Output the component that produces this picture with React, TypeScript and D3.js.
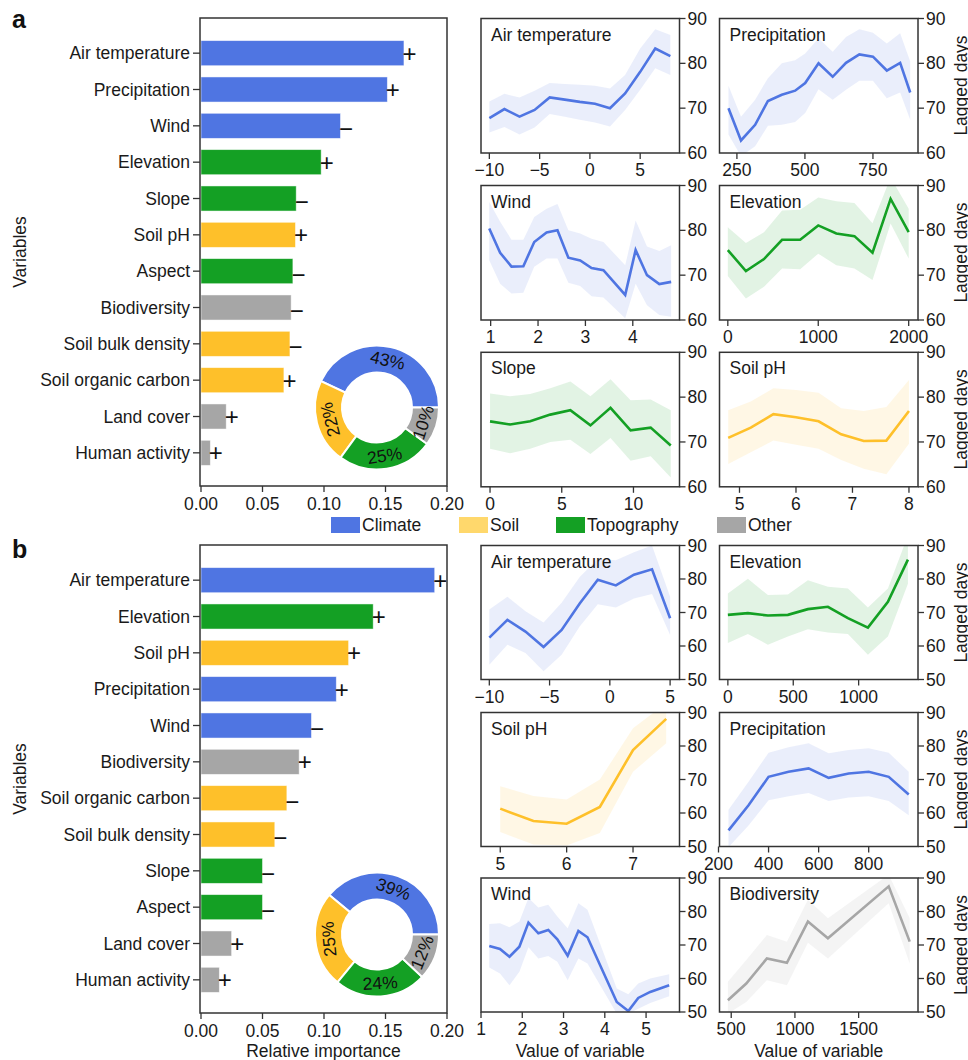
import React from 'react';
import * as d3 from 'd3';

// fonts / colours
const FONT = '"Liberation Sans", Arial, Helvetica, sans-serif';
const FS = 17.5;
const INK = '#1a1a1a';

// groups
const groupNames = ['Climate', 'Soil', 'Topography', 'Other'];
const groupColors = ['#4f75e2', '#fec02a', '#14a024', '#a6a6a6'];
const legendColors = ['#4f75e2', '#ffd86c', '#14a024', '#a6a6a6'];
const varGroup: Record<string, string> = {
  'Air temperature': 'Climate', Precipitation: 'Climate', Wind: 'Climate',
  Elevation: 'Topography', Slope: 'Topography', Aspect: 'Topography',
  'Soil pH': 'Soil', 'Soil bulk density': 'Soil', 'Soil organic carbon': 'Soil',
  Biodiversity: 'Other', 'Land cover': 'Other', 'Human activity': 'Other',
};

// ---- panel a bars
const varsA = ['Air temperature', 'Precipitation', 'Wind', 'Elevation', 'Slope', 'Soil pH', 'Aspect',
  'Biodiversity', 'Soil bulk density', 'Soil organic carbon', 'Land cover', 'Human activity'];
const importanceA = [0.165, 0.1515, 0.1134, 0.0977, 0.0774, 0.0768, 0.0747, 0.0733, 0.0723, 0.0674, 0.0205, 0.0076];
const signsA = ['+', '+', '−', '+', '−', '+', '−', '−', '−', '+', '+', '+'];
const shareA = [43, 22, 25, 10];

// ---- panel b bars
const varsB = ['Air temperature', 'Elevation', 'Soil pH', 'Precipitation', 'Wind', 'Biodiversity',
  'Soil organic carbon', 'Soil bulk density', 'Slope', 'Aspect', 'Land cover', 'Human activity'];
const importanceB = [0.19, 0.14, 0.12, 0.11, 0.0898, 0.0798, 0.0698, 0.06, 0.05, 0.05, 0.0249, 0.0149];
const signsB = ['+', '+', '+', '+', '−', '+', '−', '−', '−', '−', '+', '+'];
const shareB = [39, 25, 24, 12];

const barTicks = [0, 0.05, 0.1, 0.15, 0.2];

// ---- panel a partial dependence
const aAirX = [-10, -8.5, -7, -5.5, -4, -2.5, -1, 0.5, 2, 3.5, 5, 6.5, 8];
const aAirY = [67.8, 69.8, 68.1, 69.6, 72.4, 71.9, 71.4, 71.0, 70.0, 73.3, 78.1, 83.3, 81.6];
const aAirHi = [71.5, 73.2, 72.4, 73.9, 75.6, 75.4, 75.2, 75.0, 74.4, 77.4, 83.3, 87.6, 86.3];
const aAirLo = [64.6, 65.8, 64.1, 65.7, 68.7, 68.1, 67.4, 66.8, 65.9, 69.6, 74.1, 78.9, 77.4];

const aPreX = [219, 265, 317, 364, 415, 464, 501, 550, 602, 651, 700, 750, 801, 850, 887];
const aPreY = [70.0, 62.8, 66.3, 71.6, 73.0, 73.9, 75.6, 80.0, 77.0, 80.1, 82.0, 81.5, 78.4, 80.1, 73.5];
const aPreHi = [75.0, 68.1, 71.9, 76.7, 80.0, 80.7, 82.2, 85.6, 82.6, 85.9, 87.6, 86.8, 84.4, 86.7, 80.4];
const aPreLo = [64.1, 59.3, 61.5, 66.1, 66.3, 66.9, 68.9, 74.2, 71.9, 74.1, 76.1, 76.1, 72.2, 73.5, 67.4];

const aWindX = [0.97, 1.2, 1.44, 1.69, 1.92, 2.18, 2.41, 2.64, 2.89, 3.13, 3.38, 3.84, 4.06, 4.3, 4.56, 4.81];
const aWindY = [80.4, 75.0, 71.9, 72.0, 77.4, 79.5, 80.0, 73.9, 73.3, 71.6, 71.1, 65.6, 75.6, 70.0, 68.0, 68.5];
const aWindHi = [86.3, 81.9, 77.9, 77.9, 83.0, 84.8, 85.9, 80.0, 79.3, 78.1, 77.4, 72.2, 82.2, 76.4, 75.4, 76.7];
const aWindLo = [73.3, 68.1, 65.9, 66.1, 71.9, 73.7, 73.7, 68.3, 67.6, 65.3, 65.0, 60.4, 68.1, 63.3, 61.1, 60.7];

const aElevX = [0, 200, 400, 600, 800, 1000, 1200, 1400, 1600, 1800, 2000];
const aElevY = [75.6, 70.9, 73.6, 77.9, 77.9, 81.1, 79.3, 78.7, 75.0, 87.0, 79.6];
const aElevHi = [80.7, 77.2, 79.6, 84.4, 84.6, 87.3, 86.5, 86.1, 81.6, 91.8, 84.8];
const aElevLo = [69.8, 64.8, 67.4, 71.5, 71.3, 74.8, 72.2, 71.5, 68.9, 81.5, 73.7];

const aSlopeX = [0, 1.4, 2.8, 4.2, 5.6, 7.0, 8.4, 9.8, 11.2, 12.6];
const aSlopeY = [74.6, 73.9, 74.6, 76.1, 77.1, 73.7, 77.6, 72.6, 73.2, 69.2];
const aSlopeHi = [80.8, 80.2, 80.7, 82.0, 83.5, 80.2, 84.0, 79.3, 79.5, 77.1];
const aSlopeLo = [68.5, 67.5, 68.5, 70.0, 70.5, 67.3, 70.9, 65.8, 66.8, 62.1];

const aPhX = [4.8, 5.2, 5.6, 6.0, 6.4, 6.8, 7.2, 7.6, 8.0];
const aPhY = [70.9, 73.2, 76.2, 75.5, 74.6, 71.7, 70.2, 70.3, 76.9];
const aPhHi = [77.1, 79.0, 82.0, 81.6, 81.0, 77.5, 76.9, 77.8, 83.8];
const aPhLo = [65.1, 67.7, 70.3, 69.4, 68.5, 66.0, 64.0, 62.8, 69.6];

// ---- panel b partial dependence
const bAirX = [-10, -8.5, -7, -5.5, -4, -2.5, -1, 0.5, 2, 3.5, 5];
const bAirY = [62.5, 67.8, 64.3, 59.7, 64.8, 72.7, 79.8, 78.1, 81.3, 82.9, 68.3];
const bAirHi = [70.9, 74.7, 70.4, 67.0, 72.9, 80.6, 86.0, 85.6, 88.0, 90.0, 74.7];
const bAirLo = [54.4, 60.4, 57.9, 52.5, 57.4, 65.8, 72.5, 71.5, 74.2, 75.5, 63.3];

const bElevX = [0, 153, 306, 459, 612, 765, 918, 1071, 1224, 1377];
const bElevY = [69.3, 69.8, 69.1, 69.3, 71.0, 71.7, 68.3, 65.5, 73.2, 85.8];
const bElevHi = [75.7, 80.1, 75.2, 75.4, 79.6, 77.7, 77.2, 71.5, 77.2, 93.0];
const bElevLo = [60.9, 63.6, 60.4, 62.8, 65.0, 64.0, 63.6, 57.4, 62.8, 78.6];

const bPhX = [5, 5.5, 6, 6.5, 7, 7.5];
const bPhY = [61.3, 57.6, 56.8, 61.8, 78.8, 88.1];
const bPhHi = [68.0, 65.1, 64.0, 70.0, 85.3, 92.8];
const bPhLo = [54.3, 50.6, 50.3, 54.0, 72.3, 80.8];

const bPreX = [240, 320, 400, 480, 560, 640, 720, 800, 880, 960];
const bPreY = [54.8, 62.3, 70.8, 72.3, 73.3, 70.5, 71.8, 72.3, 70.8, 65.5];
const bPreHi = [61.0, 69.3, 78.0, 79.6, 80.8, 77.8, 78.8, 79.3, 78.0, 72.3];
const bPreLo = [49.8, 56.3, 63.8, 65.0, 66.0, 63.6, 64.6, 65.0, 63.6, 59.3];

const bWindX = [1.2, 1.46, 1.69, 1.93, 2.15, 2.39, 2.63, 2.85, 3.1, 3.36, 3.58, 4.29, 4.57, 4.81, 5.1, 5.56];
const bWindY = [69.7, 68.8, 66.5, 69.5, 76.7, 73.5, 74.5, 71.7, 66.8, 74.2, 72.3, 53.0, 50.3, 54.2, 56.0, 58.0];
const bWindHi = [76.3, 76.5, 75.3, 77.0, 84.0, 81.2, 82.0, 78.5, 75.0, 82.5, 80.5, 57.0, 55.3, 58.5, 60.0, 61.3];
const bWindLo = [63.3, 61.5, 58.0, 62.0, 69.3, 66.0, 66.7, 65.0, 59.5, 66.0, 64.5, 49.5, 49.5, 51.0, 52.7, 54.7];

const bBioX = [474, 618, 780, 937, 1102, 1259, 1736, 1901];
const bBioY = [53.5, 58.5, 66.0, 64.7, 77.0, 72.0, 87.5, 71.0];
const bBioHi = [59.0, 65.5, 73.0, 71.0, 83.5, 78.0, 91.0, 78.0];
const bBioLo = [49.5, 53.0, 59.5, 58.0, 70.7, 66.0, 82.5, 64.5];

// axis settings per small panel
const panelsA = [
  { title: 'Air temperature', x: aAirX, y: aAirY, lo: aAirLo, hi: aAirHi, dom: [-10.83, 8.91], ticks: [-10, -5, 0, 5] },
  { title: 'Precipitation', x: aPreX, y: aPreY, lo: aPreLo, hi: aPreHi, dom: [186, 915.6], ticks: [250, 500, 750] },
  { title: 'Wind', x: aWindX, y: aWindY, lo: aWindLo, hi: aWindHi, dom: [0.796, 4.986], ticks: [1, 2, 3, 4] },
  { title: 'Elevation', x: aElevX, y: aElevY, lo: aElevLo, hi: aElevHi, dom: [-92, 2103], ticks: [0, 1000, 2000] },
  { title: 'Slope', x: aSlopeX, y: aSlopeY, lo: aSlopeLo, hi: aSlopeHi, dom: [-0.63, 13.21], ticks: [0, 5, 10] },
  { title: 'Soil pH', x: aPhX, y: aPhY, lo: aPhLo, hi: aPhHi, dom: [4.646, 8.16], ticks: [5, 6, 7, 8] },
];
const panelsB = [
  { title: 'Air temperature', x: bAirX, y: bAirY, lo: bAirLo, hi: bAirHi, dom: [-10.69, 5.78], ticks: [-10, -5, 0, 5] },
  { title: 'Elevation', x: bElevX, y: bElevY, lo: bElevLo, hi: bElevHi, dom: [-64, 1454], ticks: [0, 500, 1000] },
  { title: 'Soil pH', x: bPhX, y: bPhY, lo: bPhLo, hi: bPhHi, dom: [4.71, 7.7], ticks: [5, 6, 7] },
  { title: 'Precipitation', x: bPreX, y: bPreY, lo: bPreLo, hi: bPreHi, dom: [204, 997], ticks: [200, 400, 600, 800] },
  { title: 'Wind', x: bWindX, y: bWindY, lo: bWindLo, hi: bWindHi, dom: [1.0, 5.81], ticks: [1, 2, 3, 4, 5] },
  { title: 'Biodiversity', x: bBioX, y: bBioY, lo: bBioLo, hi: bBioHi, dom: [408, 1966], ticks: [500, 1000, 1500] },
];

const colorOf = (name: string) => groupColors[groupNames.indexOf(varGroup[name])];
const fmtTick = (v: number) => (v < 0 ? '−' + Math.abs(v) : String(v));

function BarPanel({ top, vars, values, signs, share, xLabel }: any) {
  const left = 200, right = 447, bottom = top + 468;
  const x = d3.scaleLinear().domain([0, 0.2]).range([201, 447]);
  const y = d3.scaleBand<string>().domain(vars).range([top + 17, top + 453]).paddingInner(0.31).paddingOuter(0.155);
  const cx = 377, cy = top + 389.5;
  // donut runs counter-clockwise from 3 o'clock
  const pie = d3.pie<number>().sort(null).startAngle(Math.PI / 2).endAngle(Math.PI / 2 - 2 * Math.PI);
  const arc = d3.arc<d3.PieArcDatum<number>>().innerRadius(35).outerRadius(62);
  const arcs = pie(share);
  const cyLabel = (top + bottom) / 2;
  return (
    <g>
      {vars.map((v: string, i: number) => {
        const mid = y(v)! + y.bandwidth() / 2;
        return (
          <g key={v}>
            <rect x={x(0)} y={y(v)} width={x(values[i]) - x(0)} height={y.bandwidth()}
              fill={colorOf(v)} stroke="#ffffff" strokeOpacity={0.6} strokeWidth={0.8} />
            <line x1={left - 7} x2={left} y1={mid} y2={mid} stroke="#333" strokeWidth={1.3} />
            <text x={190} y={mid} dy="0.35em" textAnchor="end" fontSize={FS} fill={INK}>{v}</text>
            <text x={x(values[i]) - 1.5} y={mid + (signs[i] === '+' ? 8.5 : 11.5)}
              fontSize={24} fill="#111">{signs[i]}</text>
          </g>
        );
      })}
      {arcs.map((a, i) => {
        const [lx, ly] = arc.centroid(a);
        let mid = ((a.startAngle + a.endAngle) / 2) * 180 / Math.PI;
        if (mid < -180) mid += 180;
        return (
          <g key={i}>
            <path d={arc(a)!} transform={`translate(${cx},${cy})`} fill={groupColors[i]} stroke="#fff" strokeWidth={2} />
            <text transform={`translate(${cx + lx},${cy + ly}) rotate(${mid})`} textAnchor="middle" dy="0.35em"
              fontSize={FS} fill="#111">{share[i]}%</text>
          </g>
        );
      })}
      <rect x={left} y={top} width={right - left} height={bottom - top} fill="none" stroke="#333" strokeWidth={1.5} />
      {barTicks.map(t => (
        <g key={t}>
          <line x1={x(t)} x2={x(t)} y1={bottom} y2={bottom + 6} stroke="#333" strokeWidth={1.3} />
          <text x={x(t)} y={bottom + 24} textAnchor="middle" fontSize={FS} fill={INK}>{d3.format('.2f')(t)}</text>
        </g>
      ))}
      <text transform={`translate(26,${cyLabel}) rotate(-90)`} textAnchor="middle" fontSize={FS} fill={INK}>Variables</text>
      {xLabel && <text x={(left + right) / 2} y={1057} textAnchor="middle" fontSize={FS} fill={INK}>Relative importance</text>}
    </g>
  );
}

function LinePanel({ p, left, top, h, yDom, id, xLabel }: any) {
  const w = 198.5;
  const x = d3.scaleLinear().domain(p.dom).range([left, left + w]);
  const y = d3.scaleLinear().domain(yDom).range([top + h, top]);
  const color = colorOf(p.title);
  const pts = p.x.map((v: number, i: number) => ({ x: v, y: p.y[i], lo: p.lo[i], hi: p.hi[i] }));
  const area = d3.area<any>().x(d => x(d.x)).y0(d => y(d.lo)).y1(d => y(d.hi));
  const line = d3.line<any>().x(d => x(d.x)).y(d => y(d.y));
  const yTicks = d3.range(yDom[0], yDom[1] + 1, 10);
  return (
    <g>
      <clipPath id={id}><rect x={left} y={top} width={w} height={h} /></clipPath>
      <g clipPath={`url(#${id})`}>
        <path d={area(pts)!} fill={color} fillOpacity={0.12} />
        <path d={line(pts)!} fill="none" stroke={color} strokeWidth={2.6} />
      </g>
      <rect x={left} y={top} width={w} height={h} fill="none" stroke="#333" strokeWidth={1.5} />
      <text x={left + 10} y={top + 22} fontSize={FS} fill={INK}>{p.title}</text>
      {p.ticks.map((t: number) => (
        <g key={t}>
          <line x1={x(t)} x2={x(t)} y1={top + h} y2={top + h + 6} stroke="#333" strokeWidth={1.3} />
          <text x={x(t)} y={top + h + 23} textAnchor="middle" fontSize={FS} fill={INK}>{fmtTick(t)}</text>
        </g>
      ))}
      {yTicks.map((t: number) => (
        <g key={t}>
          <line x1={left + w} x2={left + w + 6} y1={y(t)} y2={y(t)} stroke="#333" strokeWidth={1.3} />
          <text x={left + w + 8} y={y(t)} dy="0.35em" fontSize={FS} fill={INK}>{t}</text>
        </g>
      ))}
      {xLabel && <text x={left + w / 2} y={1057} textAnchor="middle" fontSize={FS} fill={INK}>Value of variable</text>}
    </g>
  );
}

export default function App() {
  const colsX = [481, 719.5];
  const rowsA = [18.5, 185.5, 352.3];
  const rowsB = [545.5, 712.5, 878];
  const legendX = [331, 459, 556, 717];
  return (
    <svg width={968} height={1060} style={{ position: 'absolute', left: 0, top: 0, background: '#fff' }}
      fontFamily={FONT}>
      <rect width={968} height={1060} fill="#fff" />
      <text x={12} y={28} fontSize={25} fontWeight="bold" fill="#111">a</text>
      <text x={12} y={558} fontSize={25} fontWeight="bold" fill="#111">b</text>
      <BarPanel top={18} vars={varsA} values={importanceA} signs={signsA} share={shareA} xLabel={false} />
      <BarPanel top={545} vars={varsB} values={importanceB} signs={signsB} share={shareB} xLabel={true} />
      {panelsA.map((p, i) => (
        <LinePanel key={'a' + i} id={'clipa' + i} p={p} left={colsX[i % 2]} top={rowsA[Math.floor(i / 2)]}
          h={134.5} yDom={[60, 90]} xLabel={false} />
      ))}
      {panelsB.map((p, i) => (
        <LinePanel key={'b' + i} id={'clipb' + i} p={p} left={colsX[i % 2]} top={rowsB[Math.floor(i / 2)]}
          h={134} yDom={[50, 90]} xLabel={i >= 4} />
      ))}
      {[...rowsA.map(t => t + 67), ...rowsB.map(t => t + 67)].map((c, i) => (
        <text key={i} transform={`translate(967,${c}) rotate(-90)`} textAnchor="middle" fontSize={FS} fill={INK}>Lagged days</text>
      ))}
      {groupNames.map((g, i) => (
        <g key={g}>
          <rect x={legendX[i]} y={517} width={29} height={16} fill={legendColors[i]} />
          <text x={legendX[i] + 31} y={531} fontSize={FS} fill={INK}>{g}</text>
        </g>
      ))}
    </svg>
  );
}
